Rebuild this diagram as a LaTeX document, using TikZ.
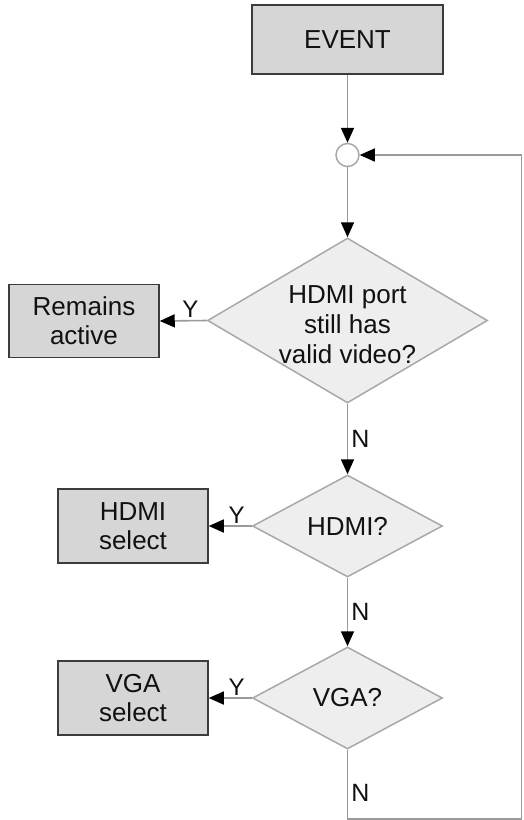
\documentclass[tikz,border=0pt]{standalone}
\usepackage{fontspec}
\setmainfont{Liberation Sans}
\usetikzlibrary{shapes.geometric,arrows.meta}
\definecolor{boxfill}{HTML}{D6D6D6}
\definecolor{boxline}{HTML}{3C3C3C}
\definecolor{diafill}{HTML}{EEEEEE}
\definecolor{dialine}{HTML}{A8A8A8}
\definecolor{conn}{HTML}{9A9A9A}
\definecolor{txt}{HTML}{111111}
\tikzset{
  boxnode/.style={rectangle, draw=boxline, fill=boxfill, line width=1.5pt, inner sep=0pt,
    minimum width=150pt, minimum height=74pt, align=center, text=txt,
    font=\fontsize{26}{29}\selectfont},
  dianode/.style={diamond, draw=dialine, fill=diafill, line width=1.5pt, inner sep=0pt},
  diatext/.style={align=center, text=txt, font=\fontsize{26}{30}\selectfont},
  junction/.style={circle, draw=dialine, fill=white, line width=1.5pt, minimum size=23pt, inner sep=0pt},
  flow/.style={draw=conn, line width=1.6pt, -{Triangle[length=15pt,width=13pt,color=black]}},
  plainline/.style={draw=conn, line width=1.6pt},
  ylab/.style={text=txt, font=\fontsize{24}{26}\selectfont, inner sep=2pt},
  nlab/.style={text=txt, font=\fontsize{25}{27}\selectfont, inner sep=3pt}
}
\begin{document}
\begin{tikzpicture}[x=1pt,y=-1pt]
\useasboundingbox (0,0) rectangle (523,820);
\node[boxnode, minimum width=191pt, minimum height=69pt] (event) at (347.5,39.5) {EVENT};
\node[junction] (junc) at (347.5,155) {};
\node[dianode, minimum width=280pt, minimum height=165pt] (d1) at (347.5,320.5) {};
\node[diatext] (t1) at (347.5,325) {HDMI port\\still has\\valid video?};
\node[boxnode, minimum height=73pt] (rem) at (84,321) {Remains\\active};
\node[dianode, minimum width=190pt, minimum height=102pt] (d2) at (347.5,526) {};
\node[diatext] (t2) at (d2) {HDMI?};
\node[boxnode] (hsel) at (133,526) {HDMI\\select};
\node[dianode, minimum width=190pt, minimum height=102pt] (d3) at (347.5,698) {};
\node[diatext] (t3) at (d3) {VGA?};
\node[boxnode] (vsel) at (133,698) {VGA\\select};
\coordinate (c1) at (347.5,819);
\coordinate (c2) at (521.5,819);
\coordinate (c3) at (521.5,155);

\draw[flow] (event.south) -- (junc.north);
\draw[flow] (junc.south) -- (d1.north);
\draw[flow] (d1.west) -- node[ylab, above, pos=0.35] {Y} (rem.east);
\draw[flow] (d1.south) -- node[nlab, right, pos=0.5] {N} (d2.north);
\draw[flow] (d2.west) -- node[ylab, above, pos=0.35] {Y} (hsel.east);
\draw[flow] (d2.south) -- node[nlab, right, pos=0.5] {N} (d3.north);
\draw[flow] (d3.west) -- node[ylab, above, pos=0.35] {Y} (vsel.east);
\draw[plainline] (d3.south) -- node[nlab, right, pos=0.62] {N} (c1) -- (c2) -- (c3);
\draw[flow] (c3) -- (junc.east);
\end{tikzpicture}
\end{document}
